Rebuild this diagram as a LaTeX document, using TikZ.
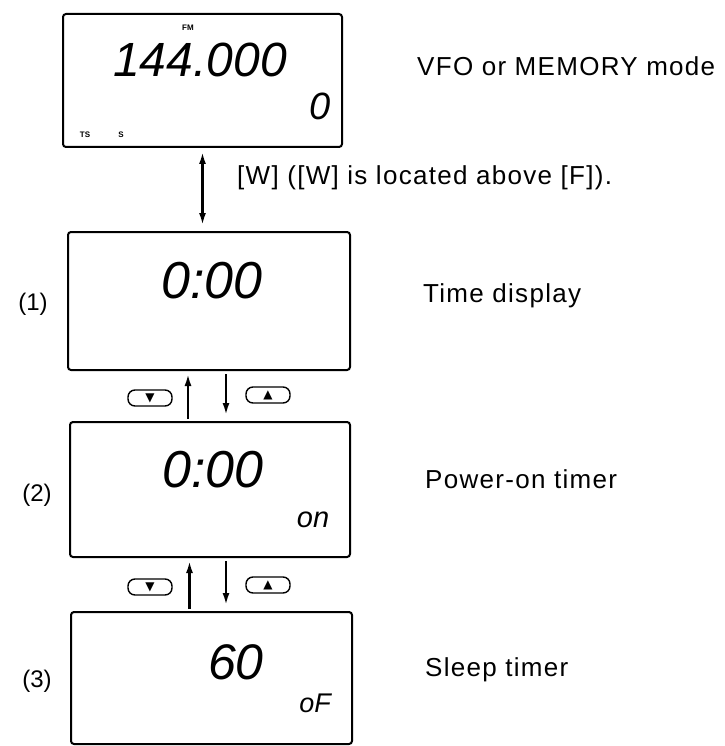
\documentclass[tikz,border=0pt]{standalone}
\usepackage{fontspec}
\setmainfont{Liberation Sans}
\newfontfamily\symfont{DejaVu Sans}
\usetikzlibrary{arrows.meta}
\begin{document}
\begin{tikzpicture}[x=1pt, y=-1pt,
  lcd/.style={rectangle, draw, line width=2pt, rounded corners=3pt, inner sep=0pt},
  seg/.style={font=\fontsize{#1}{#1}\selectfont\itshape, inner sep=0pt},
  tiny/.style={font=\fontsize{8}{8}\selectfont\bfseries, inner sep=0pt},
  lbl/.style={font=\fontsize{26}{30}\selectfont\addfontfeatures{LetterSpace=5}, anchor=base west, inner sep=0pt},
  num/.style={font=\fontsize{24}{28}\selectfont, inner sep=0pt},
  keybtn/.style={rectangle, draw, line width=1.4pt, rounded corners=7pt, minimum width=44pt,
    minimum height=16pt, inner sep=0pt, font=\symfont\fontsize{12}{12}\selectfont},
  a/.style={line width=2.2pt, -{Latex[length=12pt,width=7pt]}},
  aa/.style={line width=2.2pt, {Latex[length=12pt,width=7pt]}-{Latex[length=12pt,width=7pt]}}
]
\useasboundingbox (0,0) rectangle (724,746);
\node[lcd, minimum width=279pt, minimum height=133pt] (d0) at (202.5,80.5) {};
\node[lcd, minimum width=282pt, minimum height=138pt] (d1) at (209,301) {};
\node[lcd, minimum width=280pt, minimum height=135pt] (d2) at (210,489.5) {};
\node[lcd, minimum width=281pt, minimum height=132pt] (d3) at (211.5,678) {};
\node[seg=48] (f0) at (200,60) {144.000};
\node[tiny] (fm) at (188,28) {FM};
\node[seg=38] (ch) at (320,106) {0};
\node[tiny] (ts) at (85,135) {TS};
\node[tiny] (sm) at (121,135) {S};
\node[seg=52] (t1) at (212,281) {0:00};
\node[seg=52] (t2) at (213,470) {0:00};
\node[seg=29] (on) at (313,520) {on};
\node[seg=50] (t3) at (236,662) {60};
\node[seg=27] (of) at (315,703) {oF};
\node[num] (n1) at (33,304) {(1)};
\node[num] (n2) at (37,495) {(2)};
\node[num] (n3) at (37,681) {(3)};
\node[lbl] (l0) at (417,76) {VFO or MEMORY mode};
\node[lbl] (lw) at (237,185) {[W] ([W] is located above [F]).};
\node[lbl] (l1) at (423,302) {Time display};
\node[lbl] (l2) at (425,488) {Power-on timer};
\node[lbl] (l3) at (425,676) {Sleep timer};
\node[keybtn] (dn1) at (150,398) {▼};
\node[keybtn] (up1) at (268,395) {▲};
\node[keybtn] (dn2) at (150,587) {▼};
\node[keybtn] (up2) at (268,585) {▲};
\draw[aa, shorten <=4pt, shorten >=6pt] (d0.south) -- (d0.south |- d1.north);
\draw[a, shorten <=2pt, shorten >=3pt] ([xshift=-22pt]d2.north) -- ([xshift=-22pt]d2.north |- d1.south);
\draw[a, shorten <=3pt, shorten >=6pt] ([xshift=17pt]d1.south) -- ([xshift=17pt]d1.south |- d2.north);
\draw[a, shorten <=2pt, shorten >=3pt] ([xshift=-22pt]d3.north) -- ([xshift=-22pt]d3.north |- d2.south);
\draw[a, shorten <=3pt, shorten >=6pt] ([xshift=16pt]d2.south) -- ([xshift=16pt]d2.south |- d3.north);
\end{tikzpicture}
\end{document}
